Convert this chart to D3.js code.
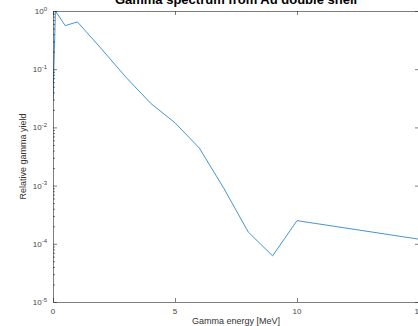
<!DOCTYPE html>
<html>
<head>
<meta charset="utf-8">
<script src="https://cdn.jsdelivr.net/npm/d3@7"></script>
<style>
  body { margin: 0; background: #fff; }
  svg { display: block; font-family: "Liberation Sans", Arial, sans-serif; }
</style>
</head>
<body>
<div id="chart"></div>
<script>
//chart data
var energy = [0, 0.1, 0.5, 1, 2, 3, 4, 5, 6, 7, 8, 9, 10, 15];
var yieldVals = [0.03, 1.0, 0.56, 0.65, 0.22, 0.072, 0.026, 0.012, 0.0044, 0.0009, 0.00016, 0.000062, 0.00025, 0.00012];
var xTicks = [0, 5, 10, 15];
var yExponents = [0, -1, -2, -3, -4, -5];

var svgW = 418;
var svgH = 326;

var margin = {top: 11, right: -1, bottom: 24, left: 53};
var width = svgW - margin.left - margin.right;
var height = svgH - margin.top - margin.bottom;

var axisColor = "#262626";

var svg = d3.select("#chart").append("svg")
    .attr("width", svgW)
    .attr("height", svgH);

var chartGroup = svg.append("g")
    .attr("transform", `translate(${margin.left}, ${margin.top})`);

var xScale = d3.scaleLinear().domain([0, 15]).range([0, width]);
var yScale = d3.scaleLog().domain([1e-5, 1]).range([height, 0]);

//clip for the line
svg.append("defs").append("clipPath").attr("id", "clip")
    .append("rect").attr("width", width).attr("height", height);

//line
var line = d3.line()
    .x((d, i) => xScale(energy[i]))
    .y(d => yScale(d));

chartGroup.append("path")
    .datum(yieldVals)
    .attr("clip-path", "url(#clip)")
    .attr("fill", "none")
    .attr("stroke", "#2f88cf")
    .attr("stroke-width", 0.9)
    .attr("d", line);

//minor log ticks
var minorTicks = [];
for (var e = -5; e < 0; e++) {
    for (var m = 2; m <= 9; m++) minorTicks.push(m * Math.pow(10, e));
}

//left axis
var leftAxis = d3.axisLeft(yScale)
    .tickValues(yExponents.map(p => Math.pow(10, p)))
    .tickSizeInner(-4).tickSizeOuter(0)
    .tickFormat("");
var yAxis = chartGroup.append("g").call(leftAxis);

chartGroup.append("g")
    .call(d3.axisLeft(yScale).tickValues(minorTicks).tickSizeInner(-2).tickSizeOuter(0).tickFormat(""))
    .select(".domain").remove();

//right axis
chartGroup.append("g")
    .attr("transform", `translate(${width}, 0)`)
    .call(d3.axisRight(yScale).tickValues(yExponents.map(p => Math.pow(10, p))).tickSizeInner(-4).tickSizeOuter(0).tickFormat(""));

//bottom axis
var bottomAxis = d3.axisBottom(xScale).tickValues(xTicks).tickSizeInner(-4).tickSizeOuter(0).tickFormat("");
var xAxis = chartGroup.append("g")
    .attr("transform", `translate(0, ${height})`)
    .call(bottomAxis);

//top axis
chartGroup.append("g")
    .call(d3.axisTop(xScale).tickValues(xTicks).tickSizeInner(-4).tickSizeOuter(0).tickFormat(""));

chartGroup.selectAll(".domain, .tick line")
    .attr("stroke", axisColor)
    .attr("stroke-width", 0.6);

//x tick labels
chartGroup.selectAll(".xlab")
    .data(xTicks)
    .enter()
    .append("text")
    .attr("x", d => xScale(d))
    .attr("y", height + 12)
    .attr("text-anchor", "middle")
    .attr("font-size", "8px")
    .attr("fill", "#444")
    .text(d => d);

//y tick labels with superscripts
var yLabels = chartGroup.selectAll(".ylab")
    .data(yExponents)
    .enter()
    .append("text")
    .attr("x", -6)
    .attr("y", d => yScale(Math.pow(10, d)) + 3)
    .attr("text-anchor", "end")
    .attr("font-size", "8px")
    .attr("fill", "#444");
yLabels.append("tspan").text("10");
yLabels.append("tspan")
    .attr("dy", -3.5)
    .attr("font-size", "6px")
    .text(d => d === 0 ? "0" : "-" + Math.abs(d));

//axis titles
svg.append("text")
    .attr("x", margin.left + width / 2)
    .attr("y", svgH - 2)
    .attr("text-anchor", "middle")
    .attr("font-size", "9px")
    .attr("fill", "#333")
    .text("Gamma energy [MeV]");

svg.append("text")
    .attr("transform", `translate(26, ${margin.top + height / 2}) rotate(-90)`)
    .attr("text-anchor", "middle")
    .attr("font-size", "9px")
    .attr("fill", "#333")
    .text("Relative gamma yield");

svg.append("text")
    .attr("x", margin.left + width / 2)
    .attr("y", 4)
    .attr("text-anchor", "middle")
    .attr("font-size", "13px")
    .attr("font-weight", "bold")
    .attr("fill", "#000")
    .text("Gamma spectrum from Au double shell");
</script>
</body>
</html>
